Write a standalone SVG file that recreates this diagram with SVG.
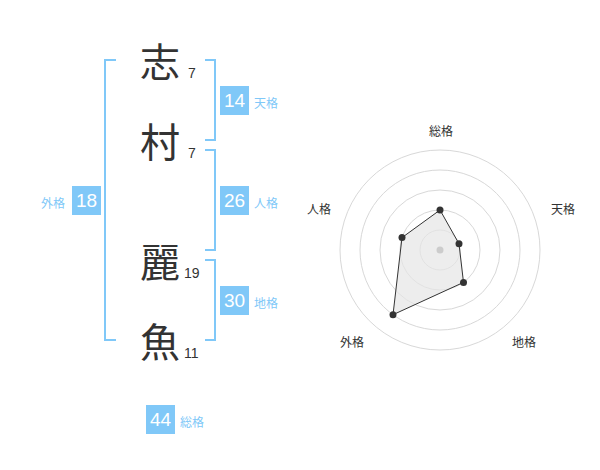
<svg xmlns="http://www.w3.org/2000/svg" width="600" height="470" viewBox="0 0 600 470">
<style>
.kanji{font-family:"Noto Sans CJK JP","Noto Sans CJK SC",sans-serif;font-size:40px;fill:#333;text-anchor:middle;dominant-baseline:central}
.strokes{font-family:"Liberation Sans",Arial,sans-serif;font-size:14px;fill:#333}
.box{fill:#80c8f8}
.boxnum{font-family:"Liberation Sans",Arial,sans-serif;font-size:19px;fill:#fff;text-anchor:middle;dominant-baseline:central}
.lbl{font-family:"Noto Sans CJK JP",sans-serif;font-size:12px;fill:#80c8f8;dominant-baseline:central}
.br{fill:none;stroke:#80c8f8;stroke-width:2}
.ring{fill:none;stroke:#d8d8d8;stroke-width:1}
.rl{font-family:"Noto Sans CJK JP",sans-serif;font-size:12px;fill:#333;text-anchor:middle;dominant-baseline:central}
.dot{fill:#333}
</style>
<rect width="600" height="470" fill="#fff"/>
<g id="connectors">
<path class="br" d="M116,60 H105 V340 H116"/>
<path class="br" d="M205,60 H215 V140 H205"/>
<path class="br" d="M205,150 H215 V250 H205"/>
<path class="br" d="M205,260 H215 V340 H205"/>
</g>
<g id="char1"><text class="kanji" x="160" y="60">志</text><text class="strokes" x="188" y="78">7</text></g>
<g id="char2"><text class="kanji" x="160" y="140">村</text><text class="strokes" x="188" y="158">7</text></g>
<g id="char3"><text class="kanji" x="160" y="260">麗</text><text class="strokes" x="184" y="278">19</text></g>
<g id="char4"><text class="kanji" x="160" y="340">魚</text><text class="strokes" x="184" y="358">11</text></g>
<g id="tenkaku"><rect class="box" x="220" y="86" width="29" height="29"/><text class="boxnum" x="234.5" y="100.5">14</text><text class="lbl" x="254" y="102">天格</text></g>
<g id="jinkaku"><rect class="box" x="220" y="186" width="29" height="29"/><text class="boxnum" x="234.5" y="200.5">26</text><text class="lbl" x="254" y="202">人格</text></g>
<g id="chikaku"><rect class="box" x="220" y="286" width="29" height="29"/><text class="boxnum" x="234.5" y="300.5">30</text><text class="lbl" x="254" y="302">地格</text></g>
<g id="gaikaku"><rect class="box" x="72" y="186" width="29" height="29"/><text class="boxnum" x="86.5" y="200.5">18</text><text class="lbl" x="65" y="202" text-anchor="end">外格</text></g>
<g id="soukaku"><rect class="box" x="146" y="405" width="29" height="29"/><text class="boxnum" x="160.5" y="419.5">44</text><text class="lbl" x="180" y="421">総格</text></g>
<g id="radar">
<circle class="ring" cx="440" cy="250" r="20"/>
<circle class="ring" cx="440" cy="250" r="40"/>
<circle class="ring" cx="440" cy="250" r="60"/>
<circle class="ring" cx="440" cy="250" r="80"/>
<circle class="ring" cx="440" cy="250" r="100"/>
<polygon points="440,210 459,243.8 463.5,282.4 393,314.7 402,237.6" fill="#e6e6e6" fill-opacity="0.7" stroke="#333" stroke-width="1"/>
<circle cx="440" cy="250" r="3.5" fill="#ccc"/>
<circle class="dot" cx="440" cy="210" r="3.5"/>
<circle class="dot" cx="459" cy="243.8" r="3.5"/>
<circle class="dot" cx="463.5" cy="282.4" r="3.5"/>
<circle class="dot" cx="393" cy="314.7" r="3.5"/>
<circle class="dot" cx="402" cy="237.6" r="3.5"/>
<text class="rl" x="441" y="130">総格</text>
<text class="rl" x="563" y="208">天格</text>
<text class="rl" x="524" y="341">地格</text>
<text class="rl" x="352" y="341">外格</text>
<text class="rl" x="319" y="208">人格</text>
</g>
</svg>
